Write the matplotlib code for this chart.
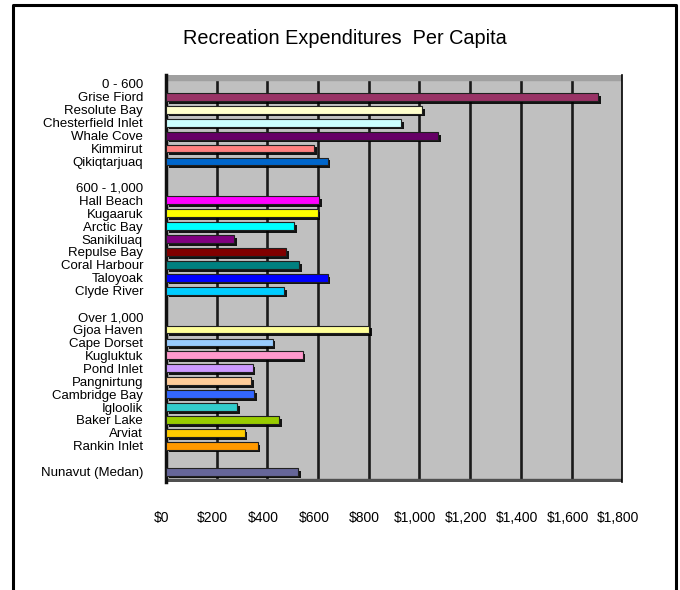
import matplotlib
matplotlib.use("Agg")
import matplotlib.pyplot as plt
import matplotlib.patheffects as pe
import matplotlib.transforms as mtrans
from matplotlib.lines import Line2D

plt.rcParams['font.family'] = ['Liberation Sans', 'DejaVu Sans']

# rows from top to bottom; None = group header or blank row
labels = ["0 - 600", "Grise Fiord", "Resolute Bay", "Chesterfield Inlet", "Whale Cove",
          "Kimmirut", "Qikiqtarjuaq", "",
          "600 - 1,000", "Hall Beach", "Kugaaruk", "Arctic Bay", "Sanikiluaq",
          "Repulse Bay", "Coral Harbour", "Taloyoak", "Clyde River", "",
          "Over 1,000", "Gjoa Haven", "Cape Dorset", "Kugluktuk", "Pond Inlet",
          "Pangnirtung", "Cambridge Bay", "Igloolik", "Baker Lake", "Arviat",
          "Rankin Inlet", "", "Nunavut (Medan)"]
values = [None, 1705, 1010, 928, 1075, 585, 638, None,
          None, 605, 598, 507, 270, 475, 526, 638, 467, None,
          None, 802, 421, 539, 342, 336, 349, 281, 448, 310, 362, None,
          520]
colors = [None, "#993366", "#FFFFCC", "#CCFFFF", "#660066", "#FF8080", "#0066CC", None,
          None, "#FF00FF", "#FFFF00", "#00FFFF", "#800080", "#800000", "#008080",
          "#0000FF", "#00CCFF", None,
          None, "#FFFF99", "#99CCFF", "#FF99CC", "#CC99FF", "#FFCC99", "#3366FF",
          "#33CCCC", "#99CC00", "#FFCC00", "#FF9900", None,
          "#666699"]
ticks = [0, 200, 400, 600, 800, 1000, 1200, 1400, 1600, 1800]
tick_labels = ["$0", "$200", "$400", "$600", "$800", "$1,000", "$1,200",
               "$1,400", "$1,600", "$1,800"]

fig = plt.figure(figsize=(6.8, 5.9), dpi=100)
ax = fig.add_axes([0.244, 0.183, 0.671, 0.690])
ax.set_facecolor("#C0C0C0")

shadow = [pe.SimplePatchShadow(offset=(2, -2), shadow_rgbFace="black", alpha=0.9), pe.Normal()]
for i, (v, col) in enumerate(zip(values, colors)):
    if v is None:
        continue
    ax.barh(i, v, height=0.6, color=col, edgecolor="#202020", linewidth=0.8,
            zorder=3, path_effects=shadow)

for t in ticks[1:-1]:
    ax.axvline(t, color="#1A1A1A", linewidth=1.9, zorder=1)

ax.set_xlim(0, 1800)
ax.set_ylim(30.8, -0.7)
ax.set_yticks(range(len(labels)))
ax.set_yticklabels(labels, fontsize=9.5)
ax.set_xticks(ticks)
ax.set_xticklabels(tick_labels, fontsize=10)
ax.tick_params(axis="y", length=0, pad=16.5)
ax.tick_params(axis="x", length=0, pad=21)
shift = mtrans.ScaledTranslation(-4 / 100, 0, fig.dpi_scale_trans)
for lbl in ax.get_xticklabels():
    lbl.set_transform(lbl.get_transform() + shift)

for s in ["top", "bottom"]:
    ax.spines[s].set_visible(False)
ax.spines["left"].set_linewidth(2.5)
ax.spines["left"].set_color("#101010")
ax.spines["right"].set_linewidth(1.2)
ax.spines["right"].set_color("black")

# top edge and floor strips of the plot area
ax.axhspan(-0.7, -0.32, color="#A0A0A0", zorder=2)
ax.axhspan(30.55, 30.8, color="#505050", zorder=2)

fig.text(0.507, 0.935, "Recreation Expenditures  Per Capita", ha="center", va="center",
         fontsize=14.3)

# outer frame (no bottom edge)
x0, x1, y1 = 13 / 680, 676 / 680, 1 - 5 / 590
fig.add_artist(Line2D([x0, x0, x1, x1], [0, y1, y1, 0], color="black", linewidth=2.2))

fig.savefig("out.png", dpi=100)
